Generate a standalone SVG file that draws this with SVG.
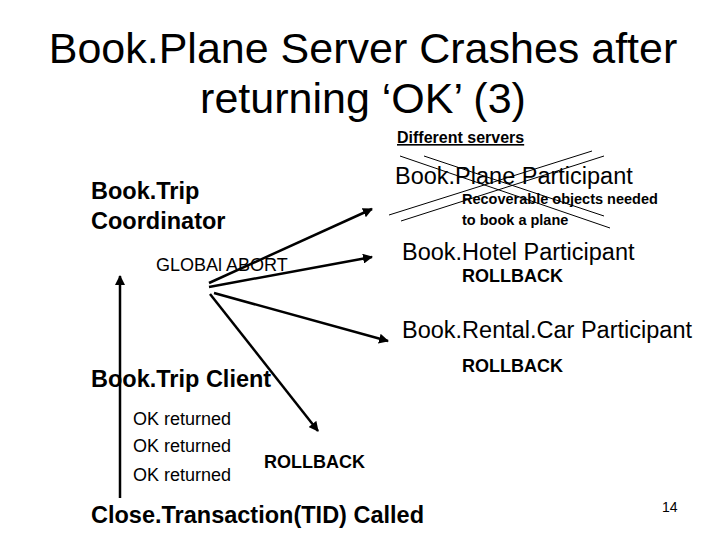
<svg xmlns="http://www.w3.org/2000/svg" width="720" height="540" viewBox="0 0 720 540">
<style>
text{font-family:"Liberation Sans",Arial,sans-serif;fill:#000}
.t{font-size:43px}
.n{font-size:23.5px}
.b{font-weight:bold}
.s{font-size:18px}
.r{font-size:16px}
.c{stroke:#000;stroke-width:2.5;fill:none}
.x{stroke:#000;stroke-width:1;fill:none}
</style>
<defs><marker id="a" viewBox="0 0 10 10" refX="9" refY="5" markerWidth="4" markerHeight="4" orient="auto"><path d="M0,0L10,5L0,10z"/></marker></defs>
<rect width="720" height="540" fill="#fff"/>
<g id="title"><text class="t" x="363" y="63" text-anchor="middle">Book.Plane Server Crashes after</text><text class="t" x="363" y="113" text-anchor="middle">returning ‘OK’ (3)</text></g>
<g id="diff"><text class="r b" x="397" y="143" font-size="17.5" text-decoration="underline">Different servers</text></g>
<g id="plane"><text class="n" x="395" y="184">Book.Plane Participant</text><text class="b" x="462" y="204" font-size="14.5">Recoverable objects needed</text><text class="b" x="462" y="225" font-size="14.5">to book a plane</text>
<path class="x" d="M400,156L610,228M424,156L604,216M389,215L592,151M401,221L604,156"/></g>
<g id="coord"><text class="n b" x="91" y="199">Book.Trip</text><text class="n b" x="91" y="229">Coordinator</text><text class="s" x="156" y="271">GLOBAl ABORT</text></g>
<g id="hotel"><text class="n" x="402" y="260">Book.Hotel Participant</text><text class="s b" x="462" y="282">ROLLBACK</text></g>
<g id="car"><text class="n" x="402" y="338">Book.Rental.Car Participant</text><text class="s b" x="462" y="372">ROLLBACK</text></g>
<g id="client"><text class="n b" x="91" y="387">Book.Trip Client</text><text class="s" x="133" y="425">OK returned</text><text class="s" x="133" y="452">OK returned</text><text class="s" x="133" y="481">OK returned</text><text class="s b" x="264" y="468">ROLLBACK</text></g>
<g id="close"><text class="n b" x="91" y="523">Close.Transaction(TID) Called</text><text x="662" y="512" font-size="14">14</text></g>
<g id="connectors">
<path class="c" marker-end="url(#a)" d="M209,283L372,209"/>
<path class="c" marker-end="url(#a)" d="M209,287L372,257"/>
<path class="c" marker-end="url(#a)" d="M214,293L388,341"/>
<path class="c" marker-end="url(#a)" d="M210,294L318,431"/>
<path class="c" marker-end="url(#a)" d="M120,498L120,276"/>
</g>
</svg>
